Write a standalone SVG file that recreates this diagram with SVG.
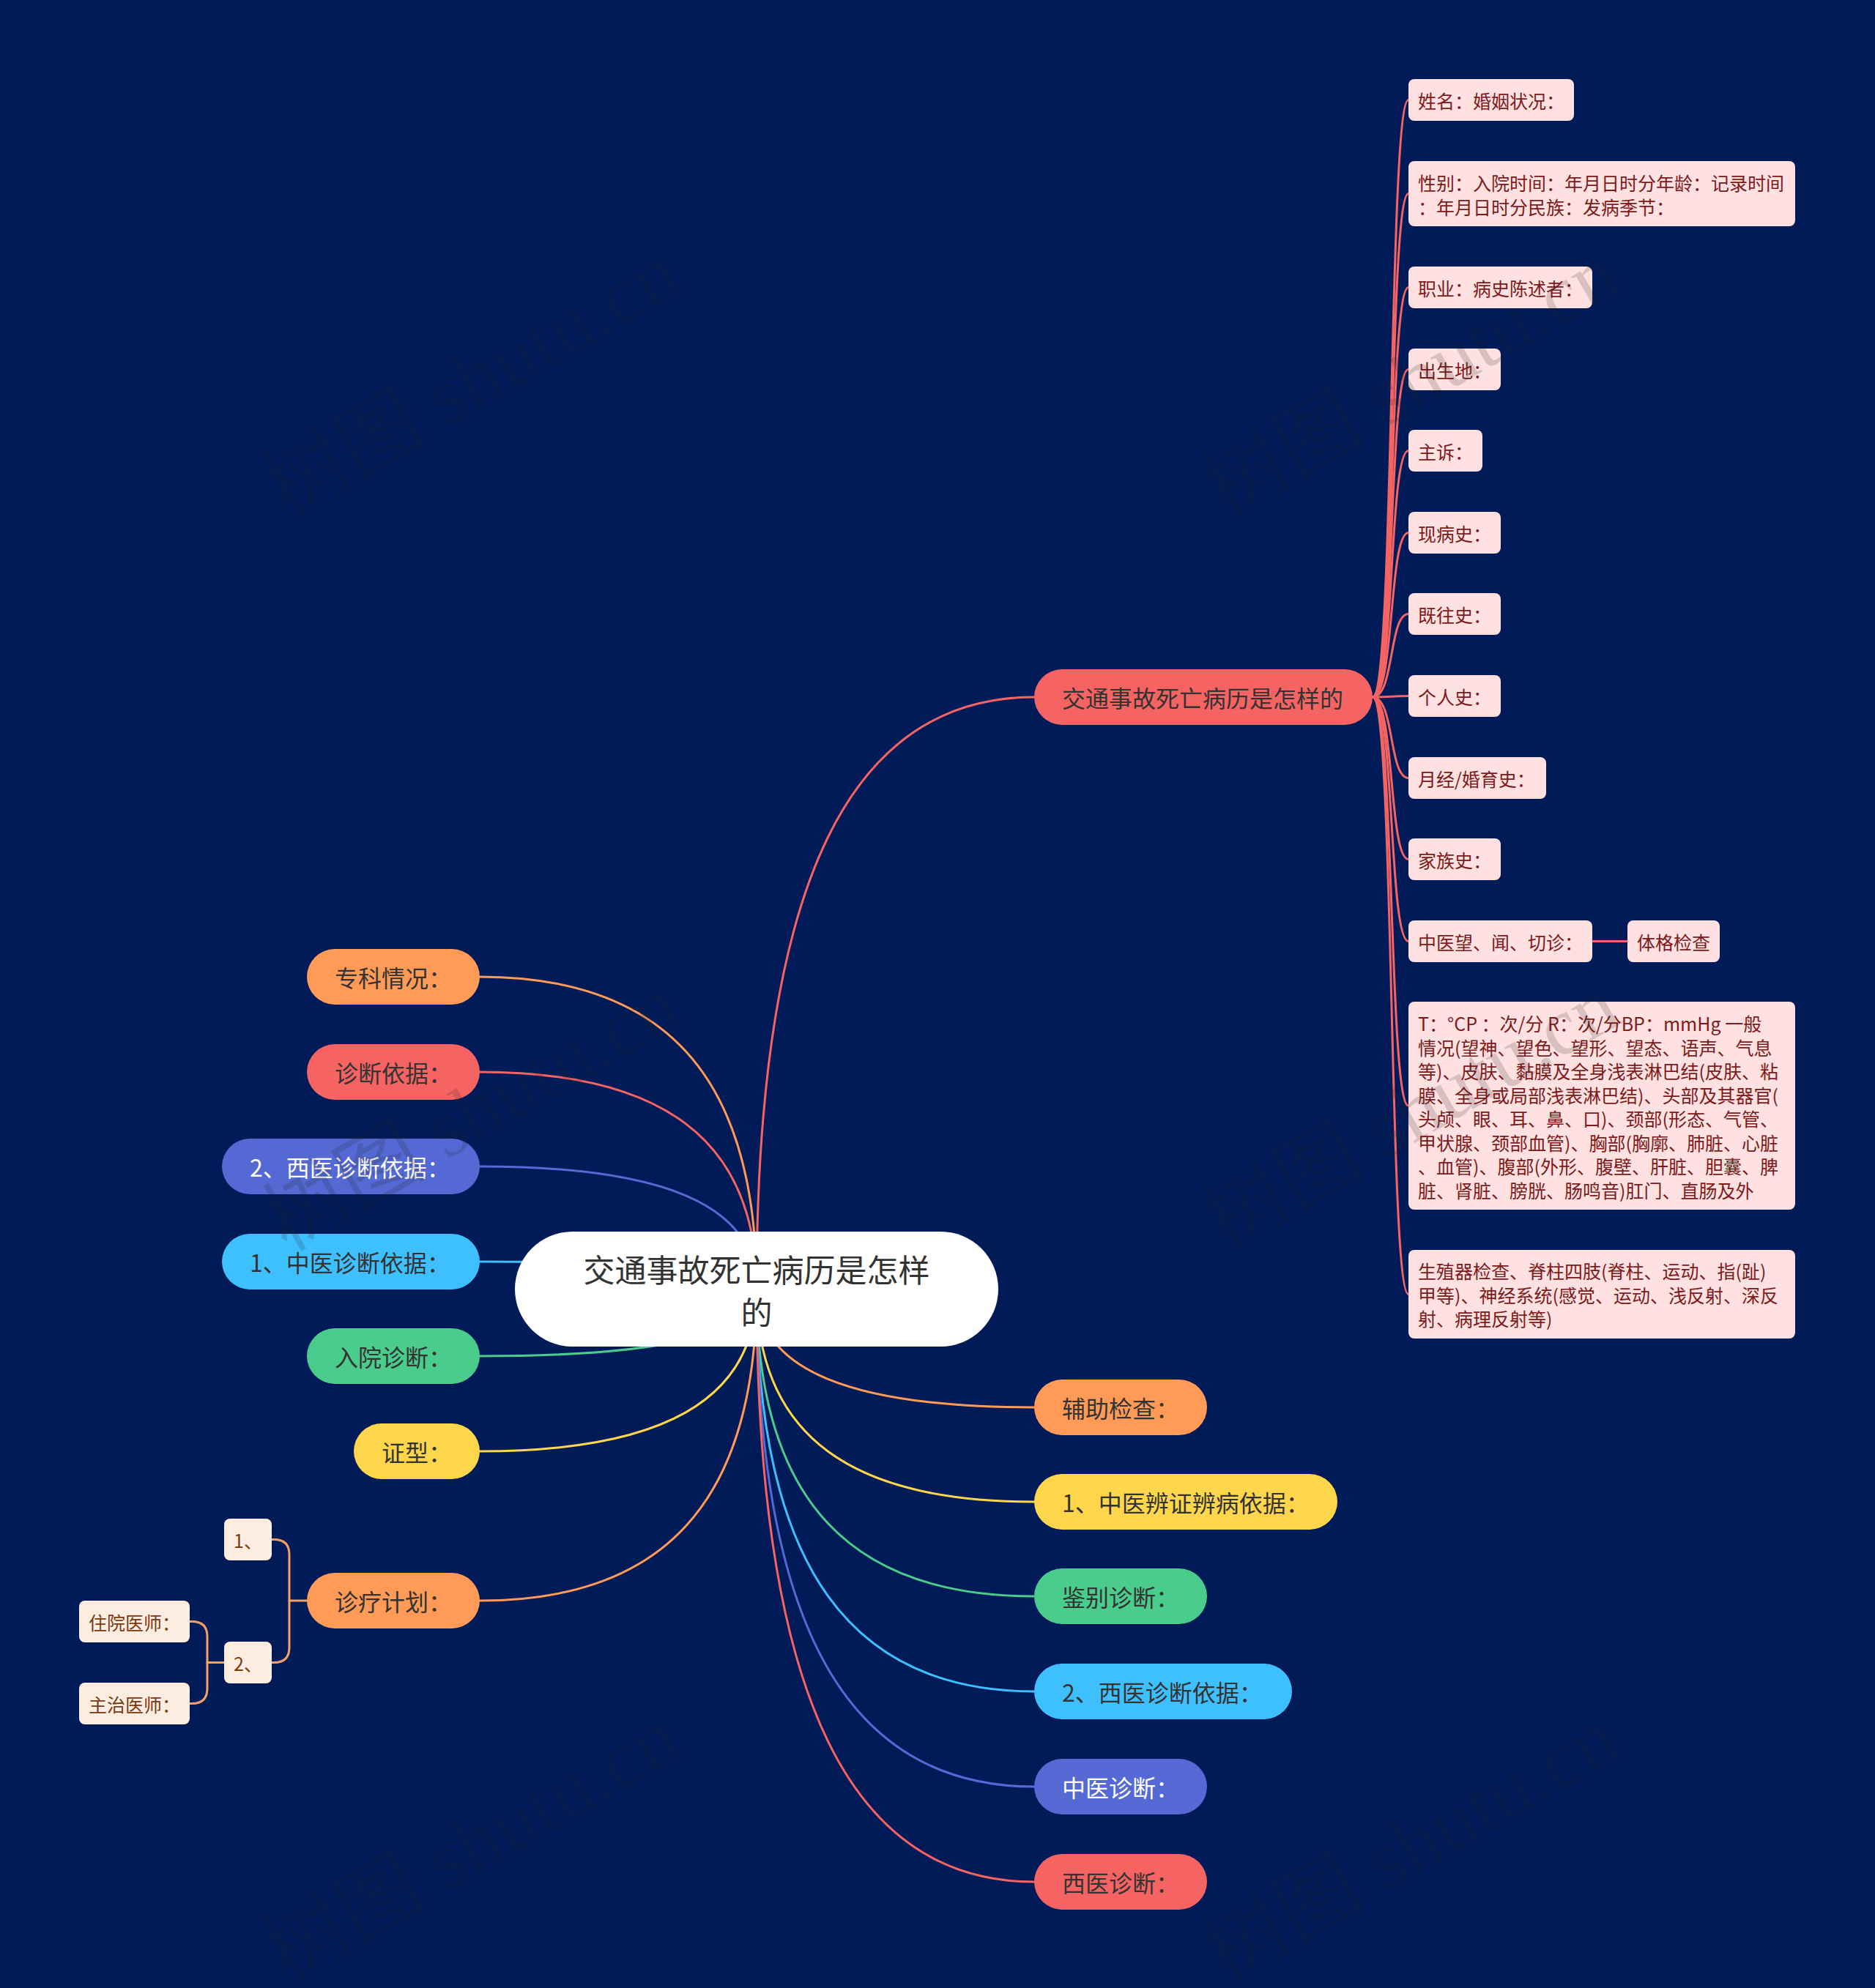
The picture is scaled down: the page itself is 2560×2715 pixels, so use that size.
<svg xmlns="http://www.w3.org/2000/svg" width="2560" height="2715" viewBox="0 0 2560 2715">
<style>
text{font-family:"Noto Sans CJK SC","Noto Sans",sans-serif;dominant-baseline:central}
.l1{font-size:32px;fill:#333333}
.l1w{font-size:32px;fill:#ffffff}
.l2{font-size:25px;fill:#7E1A1A}
.l3{font-size:25px;fill:#7A3A14}
.b2{fill:#FFE1E1}
.b3{fill:#FDEDE1}
.c{fill:none;stroke-width:3;stroke-linecap:round}
.wm{font-family:"Liberation Serif","Noto Sans CJK SC",serif;font-size:112px;fill:#222222;opacity:0.17;text-anchor:middle}
</style>
<rect x="0" y="0" width="2560" height="2715" fill="#011B58"/>
<g id="connectors">
<path class="c" stroke="#F56462" d="M1033 1760 C1033 1194 1166 952 1412 952"/>
<path class="c" stroke="#FF9A57" d="M1033 1760 C1033 1873 1166 1922 1412 1922"/>
<path class="c" stroke="#FDD64B" d="M1033 1760 C1033 1964 1166 2051 1412 2051"/>
<path class="c" stroke="#4ACD8C" d="M1033 1760 C1033 2054 1166 2180 1412 2180"/>
<path class="c" stroke="#3EC0FF" d="M1033 1760 C1033 2145 1166 2310 1412 2310"/>
<path class="c" stroke="#5469D4" d="M1033 1760 C1033 2236 1166 2440 1412 2440"/>
<path class="c" stroke="#F56462" d="M1033 1760 C1033 2327 1166 2570 1412 2570"/>
<path class="c" stroke="#FF9A57" d="M1033 1760 C1033 1462 900 1334 655 1334"/>
<path class="c" stroke="#F56462" d="M1033 1760 C1033 1553 900 1464 655 1464"/>
<path class="c" stroke="#5469D4" d="M1033 1760 C1033 1643 900 1593 655 1593"/>
<path class="c" stroke="#3EC0FF" d="M1033 1760 C1033 1734 900 1723 655 1723"/>
<path class="c" stroke="#4ACD8C" d="M1033 1760 C1033 1824 900 1852 655 1852"/>
<path class="c" stroke="#FDD64B" d="M1033 1760 C1033 1915 900 1982 655 1982"/>
<path class="c" stroke="#FF9A57" d="M1033 1760 C1033 2058 900 2186 655 2186"/>
<g stroke="#F56462">
<path class="c" d="M1874 952 C1904 952 1896 136.5 1923 136.5"/>
<path class="c" d="M1874 952 C1904 952 1896 264.5 1923 264.5"/>
<path class="c" d="M1874 952 C1904 952 1896 392.5 1923 392.5"/>
<path class="c" d="M1874 952 C1904 952 1896 504.5 1923 504.5"/>
<path class="c" d="M1874 952 C1904 952 1896 615.5 1923 615.5"/>
<path class="c" d="M1874 952 C1904 952 1896 727.5 1923 727.5"/>
<path class="c" d="M1874 952 C1904 952 1896 838.5 1923 838.5"/>
<path class="c" d="M1874 952 C1904 952 1896 950.5 1923 950.5"/>
<path class="c" d="M1874 952 C1904 952 1896 1062.5 1923 1062.5"/>
<path class="c" d="M1874 952 C1904 952 1896 1173.5 1923 1173.5"/>
<path class="c" d="M1874 952 C1904 952 1896 1285.5 1923 1285.5"/>
<path class="c" d="M1874 952 C1904 952 1896 1510 1923 1510"/>
<path class="c" d="M1874 952 C1904 952 1896 1767.5 1923 1767.5"/>
<path class="c" d="M2174 1285.5 H2222"/>
</g>
<g stroke="#F4A06A">
<path class="c" d="M419 2186 H395 V2123 Q395 2102.5 374 2102.5 H371"/>
<path class="c" d="M395 2186 V2250 Q395 2270.5 374 2270.5 H371"/>
<path class="c" d="M306 2270.5 H283 V2235 Q283 2214.5 262 2214.5 H259"/>
<path class="c" d="M283 2270.5 V2306 Q283 2326.5 262 2326.5 H259"/>
</g>
</g>
<g id="root">
<rect x="703" y="1682" width="660" height="157" rx="78.5" fill="#ffffff"/>
<text x="1033" y="1732" font-size="43" fill="#333333" text-anchor="middle">交通事故死亡病历是怎样</text>
<text x="1033" y="1790" font-size="43" fill="#333333" text-anchor="middle">的</text>
</g>
<g id="n-main-right"><rect x="1412" y="914" width="462" height="76" rx="38" fill="#F56462"/><text class="l1" x="1450" y="952">交通事故死亡病历是怎样的</text></g>
<g id="n-fuzhu"><rect x="1412" y="1884" width="236" height="76" rx="38" fill="#FF9A57"/><text class="l1" x="1450" y="1922">辅助检查：</text></g>
<g id="n-zybz"><rect x="1412" y="2013" width="414" height="76" rx="38" fill="#FDD64B"/><text class="l1" x="1450" y="2051">1、中医辨证辨病依据：</text></g>
<g id="n-jianbie"><rect x="1412" y="2142" width="236" height="76" rx="38" fill="#4ACD8C"/><text class="l1" x="1450" y="2180">鉴别诊断：</text></g>
<g id="n-xyyj-r"><rect x="1412" y="2272" width="352" height="76" rx="38" fill="#3EC0FF"/><text class="l1" x="1450" y="2310">2、西医诊断依据：</text></g>
<g id="n-zyzd"><rect x="1412" y="2402" width="236" height="76" rx="38" fill="#5469D4"/><text class="l1w" x="1450" y="2440">中医诊断：</text></g>
<g id="n-xyzd"><rect x="1412" y="2532" width="236" height="76" rx="38" fill="#F56462"/><text class="l1" x="1450" y="2570">西医诊断：</text></g>
<g id="n-zhuanke"><rect x="419" y="1296" width="236" height="76" rx="38" fill="#FF9A57"/><text class="l1" x="457" y="1334">专科情况：</text></g>
<g id="n-zdyj"><rect x="419" y="1426" width="236" height="76" rx="38" fill="#F56462"/><text class="l1" x="457" y="1464">诊断依据：</text></g>
<g id="n-xyyj-l"><rect x="303" y="1555" width="352" height="76" rx="38" fill="#5469D4"/><text class="l1w" x="341" y="1593">2、西医诊断依据：</text></g>
<g id="n-zyyj-l"><rect x="303" y="1685" width="352" height="76" rx="38" fill="#3EC0FF"/><text class="l1" x="341" y="1723">1、中医诊断依据：</text></g>
<g id="n-ruyuan"><rect x="419" y="1814" width="236" height="76" rx="38" fill="#4ACD8C"/><text class="l1" x="457" y="1852">入院诊断：</text></g>
<g id="n-zhengxing"><rect x="483" y="1944" width="172" height="76" rx="38" fill="#FDD64B"/><text class="l1" x="521" y="1982">证型：</text></g>
<g id="n-zhenliao"><rect x="419" y="2148" width="236" height="76" rx="38" fill="#FF9A57"/><text class="l1" x="457" y="2186">诊疗计划：</text></g>
<g id="n-xingming"><rect class="b2" x="1923" y="108" width="226" height="57" rx="8"/><text class="l2" x="1936" y="136.5">姓名：婚姻状况：</text></g>
<g id="n-xingbie"><rect class="b2" x="1923" y="220" width="528" height="89" rx="8"/><text class="l2" x="1936" y="248.5">性别：入院时间：年月日时分年龄：记录时间</text><text class="l2" x="1936" y="281.5">：年月日时分民族：发病季节：</text></g>
<g id="n-zhiye"><rect class="b2" x="1923" y="364" width="251" height="57" rx="8"/><text class="l2" x="1936" y="392.5">职业：病史陈述者：</text></g>
<g id="n-chusheng"><rect class="b2" x="1923" y="476" width="126" height="57" rx="8"/><text class="l2" x="1936" y="504.5">出生地：</text></g>
<g id="n-zhusu"><rect class="b2" x="1923" y="587" width="101" height="57" rx="8"/><text class="l2" x="1936" y="615.5">主诉：</text></g>
<g id="n-xianbing"><rect class="b2" x="1923" y="699" width="126" height="57" rx="8"/><text class="l2" x="1936" y="727.5">现病史：</text></g>
<g id="n-jiwang"><rect class="b2" x="1923" y="810" width="126" height="57" rx="8"/><text class="l2" x="1936" y="838.5">既往史：</text></g>
<g id="n-geren"><rect class="b2" x="1923" y="922" width="126" height="57" rx="8"/><text class="l2" x="1936" y="950.5">个人史：</text></g>
<g id="n-yuejing"><rect class="b2" x="1923" y="1034" width="188" height="57" rx="8"/><text class="l2" x="1936" y="1062.5">月经/婚育史：</text></g>
<g id="n-jiazu"><rect class="b2" x="1923" y="1145" width="126" height="57" rx="8"/><text class="l2" x="1936" y="1173.5">家族史：</text></g>
<g id="n-zhongyi"><rect class="b2" x="1923" y="1257" width="251" height="57" rx="8"/><text class="l2" x="1936" y="1285.5">中医望、闻、切诊：</text></g>
<g id="n-tige"><rect class="b2" x="2222" y="1257" width="126" height="57" rx="8"/><text class="l2" x="2235" y="1285.5">体格检查</text></g>
<g id="n-tbox"><rect class="b2" x="1923" y="1368" width="528" height="284" rx="8"/>
<text class="l2" x="1936" y="1397">T：°CP ：次/分 R：次/分BP：mmHg 一般</text>
<text class="l2" x="1936" y="1429.5">情况(望神、望色、望形、望态、语声、气息</text>
<text class="l2" x="1936" y="1462">等)、皮肤、黏膜及全身浅表淋巴结(皮肤、粘</text>
<text class="l2" x="1936" y="1494.5">膜、全身或局部浅表淋巴结)、头部及其器官(</text>
<text class="l2" x="1936" y="1527">头颅、眼、耳、鼻、口)、颈部(形态、气管、</text>
<text class="l2" x="1936" y="1559.5">甲状腺、颈部血管)、胸部(胸廓、肺脏、心脏</text>
<text class="l2" x="1936" y="1592">、血管)、腹部(外形、腹壁、肝脏、胆囊、脾</text>
<text class="l2" x="1936" y="1624.5">脏、肾脏、膀胱、肠鸣音)肛门、直肠及外</text>
</g>
<g id="n-shengzhi"><rect class="b2" x="1923" y="1707" width="528" height="121" rx="8"/>
<text class="l2" x="1936" y="1735">生殖器检查、脊柱四肢(脊柱、运动、指(趾)</text>
<text class="l2" x="1936" y="1767.5">甲等)、神经系统(感觉、运动、浅反射、深反</text>
<text class="l2" x="1936" y="1800">射、病理反射等)</text>
</g>
<g id="n-p1"><rect class="b3" x="306" y="2074" width="65" height="57" rx="8"/><text class="l3" x="319" y="2102.5">1、</text></g>
<g id="n-p2"><rect class="b3" x="306" y="2242" width="65" height="57" rx="8"/><text class="l3" x="319" y="2270.5">2、</text></g>
<g id="n-zhuyuan"><rect class="b3" x="108" y="2186" width="151" height="57" rx="8"/><text class="l3" x="121" y="2214.5">住院医师：</text></g>
<g id="n-zhuzhi"><rect class="b3" x="108" y="2298" width="151" height="57" rx="8"/><text class="l3" x="121" y="2326.5">主治医师：</text></g>
<g id="watermark">
<text class="wm" transform="translate(644 520) rotate(-30)">树图 shutu.cn</text>
<text class="wm" transform="translate(1926 520) rotate(-30)">树图 shutu.cn</text>
<text class="wm" transform="translate(644 1520) rotate(-30)">树图 shutu.cn</text>
<text class="wm" transform="translate(1926 1520) rotate(-30)">树图 shutu.cn</text>
<text class="wm" transform="translate(644 2520) rotate(-30)">树图 shutu.cn</text>
<text class="wm" transform="translate(1926 2520) rotate(-30)">树图 shutu.cn</text>
</g>
</svg>
